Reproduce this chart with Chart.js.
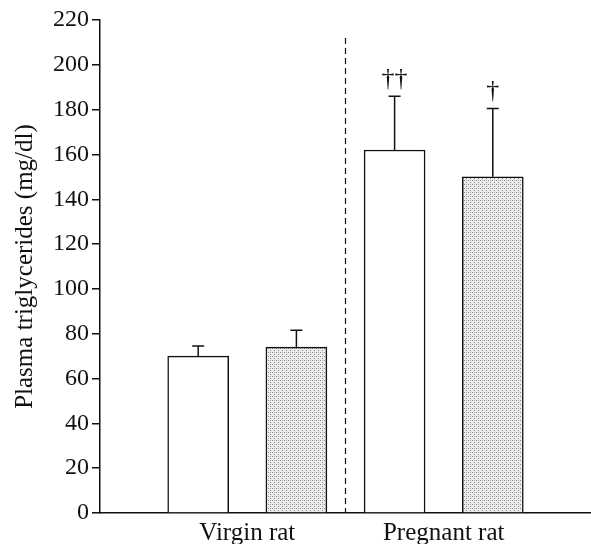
<!DOCTYPE html>
<html>
<head>
<meta charset="utf-8">
<script src="https://cdn.jsdelivr.net/npm/chart.js@4"></script>
<style>
html, body { margin: 0; padding: 0; background: #fff; }
#wrap { width: 591px; height: 544px; }
</style>
</head>
<body>
<div id="wrap"><canvas id="myChart"></canvas></div>
<script>
// data
const groups = ['Virgin rat', 'Pregnant rat'];
const groupPos = [1.5, 3.5];
const plainPos = [1, 3];
const plainMeans = [70, 162];
const plainSEM = [4.5, 24];
const plainMarks = ['', '††'];
const dotPos = [2, 4];
const dotMeans = [74, 150];
const dotSEM = [7.5, 30.5];
const dotMarks = ['', '†'];
const yTicks = [0, 20, 40, 60, 80, 100, 120, 140, 160, 180, 200, 220];

const serif = '"Liberation Serif", "DejaVu Serif", serif';

// stippled grey fill
function stipple() {
    const c = document.createElement('canvas');
    c.width = 4; c.height = 4;
    const g = c.getContext('2d');
    g.fillStyle = '#ececec';
    g.fillRect(0, 0, 4, 4);
    g.fillStyle = '#8c8c8c';
    g.fillRect(0, 0, 1, 1);
    g.fillRect(2, 2, 1, 1);
    g.fillStyle = '#b4b4b4';
    g.fillRect(2, 0, 1, 1);
    return g.createPattern(c, 'repeat');
}

const errorBars = {
    id: 'errorBars',
    afterDatasetsDraw(chart) {
        const c = chart.ctx;
        const y = chart.scales.y;
        chart.data.datasets.forEach((ds, i) => {
            chart.getDatasetMeta(i).data.forEach((bar, j) => {
                const top = y.getPixelForValue(ds.data[j].y + ds.sem[j]);
                c.save();
                c.strokeStyle = '#111';
                c.lineWidth = 1.5;
                c.beginPath();
                c.moveTo(bar.x, bar.y);
                c.lineTo(bar.x, top);
                c.moveTo(bar.x - 6, top);
                c.lineTo(bar.x + 6, top);
                c.stroke();
                if (ds.marks[j]) {
                    c.fillStyle = '#111';
                    c.font = '26px ' + serif;
                    c.textAlign = 'center';
                    c.textBaseline = 'bottom';
                    c.fillText(ds.marks[j], bar.x, top - 4);
                }
                c.restore();
            });
        });
    }
};

const divider = {
    id: 'divider',
    afterDraw(chart, args, opts) {
        const c = chart.ctx;
        const xp = chart.scales.x.getPixelForValue(opts.at);
        c.save();
        c.strokeStyle = '#111';
        c.lineWidth = 1.2;
        c.setLineDash([6, 4]);
        c.beginPath();
        c.moveTo(xp, chart.scales.y.getPixelForValue(opts.top));
        c.lineTo(xp, chart.scales.y.getPixelForValue(0));
        c.stroke();
        c.restore();
    }
};

const ctx = document.getElementById('myChart');

new Chart(ctx, {
    type: 'bar',
    data: {
        datasets: [{
            label: 'plain',
            data: plainPos.map((x, i) => ({ x: x, y: plainMeans[i] })),
            sem: plainSEM,
            marks: plainMarks,
            backgroundColor: '#fff',
        }, {
            label: 'stippled',
            data: dotPos.map((x, i) => ({ x: x, y: dotMeans[i] })),
            sem: dotSEM,
            marks: dotMarks,
            backgroundColor: stipple(),
        }]
    },
    options: {
        responsive: true,
        maintainAspectRatio: false,
        animation: false,
        layout: { padding: { top: 20, right: 0, left: 0, bottom: 0 } },
        datasets: {
            bar: {
                grouped: false,
                barThickness: 61,
                borderColor: '#111',
                borderWidth: 1.5,
            }
        },
        plugins: {
            legend: { display: false },
            tooltip: { enabled: false },
            divider: { at: 2.5, top: 212 },
        },
        scales: {
            x: {
                type: 'linear',
                offset: false,
                min: 0,
                max: 5,
                afterBuildTicks: s => { s.ticks = groupPos.map(v => ({ value: v })); },
                afterFit: s => { s.height = 31; },
                grid: { display: false },
                border: { display: true, color: '#111', width: 1.5 },
                ticks: {
                    color: '#111',
                    padding: -3,
                    font: { family: serif, size: 25 },
                    callback: v => groups[groupPos.indexOf(v)],
                },
            },
            y: {
                min: 0,
                max: 220,
                afterBuildTicks: s => { s.ticks = yTicks.map(v => ({ value: v })); },
                afterFit: s => { s.width = 100; },
                grid: {
                    drawOnChartArea: false,
                    drawTicks: true,
                    tickLength: 8,
                    color: '#111',
                    lineWidth: 1.5,
                },
                border: { display: true, color: '#111', width: 1.5 },
                ticks: {
                    color: '#111',
                    padding: 3,
                    font: { family: serif, size: 24 },
                },
                title: {
                    display: true,
                    text: 'Plasma triglycerides (mg/dl)',
                    color: '#111',
                    padding: { top: 10, bottom: 0 },
                    font: { family: serif, size: 25 },
                },
            },
        },
    },
    plugins: [errorBars, divider],
});
</script>
</body>
</html>
